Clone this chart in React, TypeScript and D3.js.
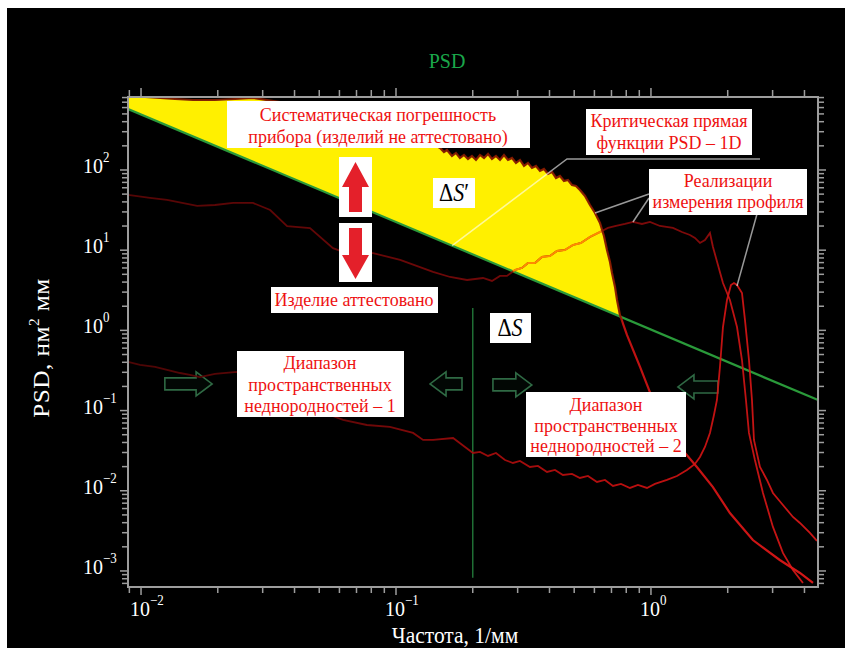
import React from "react";
import * as d3 from "d3";

// Critical PSD line (1D), two end points in frequency [1/mm] and PSD [nm²·mm]
const critFreq = [0.0089, 4.5];
const critPsd = [576, 0.136];

// Instrument systematic error PSD
const sysFreq = [
  0.00889, 0.01037, 0.0119, 0.01359, 0.016, 0.0195, 0.0234, 0.0275, 0.042, 0.066,
  0.1037, 0.1359, 0.1488, 0.1542, 0.1585, 0.1658, 0.1719, 0.1782, 0.1848, 0.1916,
  0.1986, 0.2059, 0.2135, 0.2214, 0.2296, 0.2379, 0.2467, 0.2558, 0.2652, 0.2749,
  0.2851, 0.2955, 0.3064, 0.3177, 0.3294, 0.3415, 0.354, 0.367, 0.3805, 0.3945,
  0.409, 0.4241, 0.4396, 0.4558, 0.4726, 0.4899, 0.508, 0.5266, 0.551, 0.5765,
  0.6032, 0.631, 0.6541, 0.6722, 0.6907, 0.7034, 0.7227, 0.736, 0.7556, 0.805,
  0.906, 1.018, 1.166, 1.3, 1.514, 1.75, 2.04, 2.51, 3.2, 3.84, 4.32,
];
const sysPsd = [
  840, 813, 790, 767, 746, 746, 767, 790, 646, 484,
  315, 223, 188.1, 167.7, 177.6, 149.5, 162.9, 141.1, 153.8, 137.1,
  149.5, 133.3, 153.8, 141.1, 158.3, 137.1, 149.5, 133.3, 153.8, 133.3,
  141.1, 122.3, 133.3, 112.2, 122.3, 105.9, 112.2, 97.2, 102.9, 89.2,
  94.4, 79.5, 84.2, 72.9, 75.0, 65.0, 63.2, 56.3, 47.4, 36.6,
  29.1, 21.8, 15.0, 10.06, 7.13, 5.2, 3.48, 2.39, 1.556, 0.877,
  0.35, 0.136, 0.0573, 0.0352, 0.0198, 0.0111, 0.00528, 0.00243, 0.00137, 0.000944, 0.000708,
];

// Profile measurement, realization 1
const real1Freq = [
  0.00889, 0.01084, 0.01265, 0.0166, 0.0195, 0.02297, 0.02748, 0.0321, 0.0374, 0.046,
  0.0566, 0.062, 0.0813, 0.1038, 0.1397, 0.163, 0.19, 0.2194, 0.2379, 0.2558,
  0.2724, 0.2929, 0.3119, 0.3294, 0.3508, 0.3737, 0.4017, 0.4279, 0.4599, 0.4944,
  0.5314, 0.5765, 0.631, 0.6782, 0.7291, 0.7907, 0.85, 0.922, 0.991, 1.0846,
  1.2196, 1.323, 1.4223, 1.4876, 1.5565, 1.6284, 1.7036, 1.7505, 1.8312, 1.9161,
  2.04, 2.175, 2.275, 2.358, 2.423, 2.557, 2.75, 3.009, 3.293, 3.605, 3.946,
];
const real1Psd = [
  48.8, 44.8, 42.3, 35.6, 36.6, 38.8, 38.8, 31.7, 20.0, 18.9,
  10.6, 9.5, 9.2, 7.55, 5.35, 4.63, 4.25, 4.5, 4.13, 4.77,
  4.77, 5.66, 6.0, 6.92, 6.92, 8.23, 8.47, 9.77, 10.06, 11.61,
  12.3, 14.61, 16.86, 18.92, 20.04, 21.22, 22.47, 21.22, 22.47, 20.04,
  18.92, 16.86, 15.47, 14.2, 12.3, 13.4, 16.39, 10.96, 6.54, 3.9,
  2.39, 1.1, 0.427, 0.1355, 0.0526, 0.0242, 0.00939, 0.00354, 0.00168, 0.00103, 0.000708,
];

// Profile measurement, realization 2
const real2Freq = [
  0.00889, 0.00991, 0.01135, 0.01265, 0.01422, 0.01556, 0.017, 0.0195, 0.0238, 0.0321,
  0.042, 0.0551, 0.062, 0.0769, 0.0946, 0.1167, 0.1277, 0.1397, 0.1675, 0.1865,
  0.2004, 0.2135, 0.2296, 0.2467, 0.2676, 0.2876, 0.3064, 0.3353, 0.3604, 0.3911,
  0.4202, 0.4517, 0.4899, 0.5266, 0.5661, 0.6141, 0.6601, 0.7096, 0.7628, 0.8273,
  0.8892, 0.9645, 1.0368, 1.1553, 1.2647, 1.3838, 1.4876, 1.5565, 1.6284, 1.7036,
  1.7663, 1.8146, 1.8646, 1.9161, 1.9869, 2.0597, 2.1161, 2.1747, 2.2751, 2.3372,
  2.4232, 2.4898, 2.5351, 2.676, 2.8505, 3.0094, 3.2927, 3.605, 3.8394, 4.2025, 4.4771,
];
const real2Psd = [
  0.404, 0.371, 0.35, 0.321, 0.294, 0.278, 0.262, 0.286, 0.303, 0.241,
  0.157, 0.0881, 0.0764, 0.0661, 0.0625, 0.0526, 0.043, 0.043, 0.0455, 0.0352,
  0.0296, 0.03047, 0.02716, 0.0296, 0.02421, 0.02221, 0.02352, 0.01981, 0.02038, 0.01716,
  0.01817, 0.01574, 0.0162, 0.01444, 0.01529, 0.01287, 0.01364, 0.01148, 0.01216, 0.01084,
  0.01181, 0.01084, 0.01216, 0.01364, 0.01529, 0.01817, 0.02159, 0.02638, 0.03516, 0.05256,
  0.08814, 0.1355, 0.3497, 1.1, 2.39, 3.68, 3.9, 3.68, 2.93, 1.348,
  0.427, 0.1355, 0.043, 0.01981, 0.01364, 0.00939, 0.006651, 0.004714, 0.003968, 0.002977, 0.002366,
];

// Border between the two ranges of spatial inhomogeneities
const boundaryFreq = 0.2;
const boundaryPsd = [1.9, 0.00082];

// Range arrows: tail frequency, head frequency, level
const rangeArrowFrom = [0.0124, 0.1815, 0.24, 1.83];
const rangeArrowTo = [0.019, 0.136, 0.341, 1.276];
const rangeArrowPsd = [0.215, 0.215, 0.209, 0.197];

const xDecades = [-2, -1, 0];
const yDecades = [2, 1, 0, -1, -2, -3];

const FONT = "'Liberation Serif', 'Times New Roman', serif";
const SY = 1.1;
const RED = "#ee1111";

type Pt = [number, number];

function Txt(props: any) {
  const { x, y, size, fill, anchor, children, style } = props;
  return (
    <text
      transform={`translate(${x},${y}) scale(1,${SY})`}
      fontSize={size}
      fill={fill}
      textAnchor={anchor || "start"}
      fontFamily={FONT}
      style={style}
    >
      {children}
    </text>
  );
}

export default function App() {
  const W = 845;
  const H = 648;
  const L = 128, R = 818, T = 97, B = 587;

  const x = d3.scaleLog().domain([0.00889, 4.52]).range([L, R]);
  const y = d3.scaleLog().domain([Math.pow(10, -3.2), Math.pow(10, 2.91)]).range([B, T]);

  const zip = (fs: number[], ps: number[]): Pt[] => fs.map((f, i) => [f, ps[i]] as Pt);
  const line = d3.line<Pt>().x((d) => x(d[0])).y((d) => y(d[1]));

  const lc0 = Math.log10(critFreq[0]);
  const lc1 = Math.log10(critFreq[1]);
  const lp0 = Math.log10(critPsd[0]);
  const lp1 = Math.log10(critPsd[1]);
  const crit = (f: number) => Math.pow(10, lp0 + ((Math.log10(f) - lc0) / (lc1 - lc0)) * (lp1 - lp0));

  const sys = zip(sysFreq, sysPsd);
  const real1 = zip(real1Freq, real1Psd);
  const real2 = zip(real2Freq, real2Psd);
  const critPts = zip(critFreq, critPsd);

  // Excess region ΔS': instrument curve above the critical line
  const upper: Pt[] = [];
  for (let i = 0; i < sys.length; i++) {
    const [f, p] = sys[i];
    if (p >= crit(f)) {
      upper.push(sys[i]);
      continue;
    }
    const [fa, pa] = sys[i - 1];
    const da = Math.log10(pa) - Math.log10(crit(fa));
    const db = Math.log10(p) - Math.log10(crit(f));
    const t = da / (da - db);
    const fc = Math.pow(10, Math.log10(fa) + t * (Math.log10(f) - Math.log10(fa)));
    upper.push([fc, crit(fc)]);
    break;
  }
  const regionPath = line([...upper, [upper[0][0], crit(upper[0][0])]]) + "Z";
  const crossX = x(upper[upper.length - 1][0]);

  // Ticks
  const [fx0, fx1] = x.domain();
  const xTicks: { v: number; major: boolean }[] = [];
  for (let d = -3; d <= 1; d++)
    for (let m = 1; m <= 9; m++) {
      const v = m * Math.pow(10, d);
      if (v >= fx0 && v <= fx1) xTicks.push({ v, major: m === 1 });
    }
  const [py0, py1] = y.domain();
  const yTicks: { v: number; major: boolean }[] = [];
  for (let d = -4; d <= 2; d++)
    for (let m = 1; m <= 9; m++) {
      const v = m * Math.pow(10, d);
      if (v >= py0 && v <= py1) yTicks.push({ v, major: m === 1 });
    }

  const blockArrow = (xt: number, xh: number, cy: number) => {
    const dir = Math.sign(xh - xt);
    const len = Math.abs(xh - xt);
    const hl = Math.min(16, len * 0.5);
    const xb = xh - dir * hl;
    return `M${xt},${cy - 6}L${xb},${cy - 6}L${xb},${cy - 12}L${xh},${cy}L${xb},${cy + 12}L${xb},${cy + 6}L${xt},${cy + 6}Z`;
  };

  const boxes = [
    { x: 227, y: 101, w: 303, h: 47, cx: 378, lines: ["Систематическая погрешность", "прибора (изделий не аттестовано)"], base: [121, 143] },
    { x: 271, y: 287, w: 167, h: 26, cx: 354, lines: ["Изделие аттестовано"], base: [306] },
    { x: 237, y: 351, w: 167, h: 66, cx: 320, lines: ["Диапазон", "пространственных", "неднородностей – 1"], base: [369, 391, 412] },
    { x: 526, y: 392, w: 160, h: 65, cx: 606, lines: ["Диапазон", "пространственных", "неднородностей – 2"], base: [411, 432, 452] },
    { x: 586, y: 109, w: 166, h: 46, cx: 669, lines: ["Критическая прямая", "функции PSD – 1D"], base: [127, 149] },
    { x: 649, y: 169, w: 158, h: 46, cx: 728, lines: ["Реализации", "измерения профиля"], base: [187, 208] },
  ];

  // Leader targets on the curves
  const critTarget: Pt = [0.166, crit(0.166)];
  const sysTarget: Pt = [sysFreq[50], sysPsd[50]];
  const real1Target: Pt = [real1Freq[36], real1Psd[36]];
  const peakTarget: Pt = [real2Freq[56], real2Psd[56]];

  const gx = (p: number) => (p - L) / (R - L);

  return (
    <div style={{ position: "absolute", left: 0, top: 0 }}>
      <svg width={W} height={H} viewBox={`0 0 ${W} ${H}`} style={{ display: "block" }}>
        <defs>
          <clipPath id="plot">
            <rect x={L} y={T} width={R - L} height={B - T} />
          </clipPath>
          <clipPath id="region">
            <path d={regionPath} />
          </clipPath>
          <linearGradient id="gReal1" gradientUnits="userSpaceOnUse" x1={L} x2={R} y1={0} y2={0}>
            <stop offset={0} stopColor="#5e0606" />
            <stop offset={gx(705)} stopColor="#8e0b0b" />
            <stop offset={gx(728)} stopColor="#d01414" />
            <stop offset={1} stopColor="#e01818" />
          </linearGradient>
          <linearGradient id="gReal2" gradientUnits="userSpaceOnUse" x1={L} x2={R} y1={0} y2={0}>
            <stop offset={0} stopColor="#560606" />
            <stop offset={gx(340)} stopColor="#6e0808" />
            <stop offset={gx(480)} stopColor="#a80c0c" />
            <stop offset={gx(620)} stopColor="#cc1010" />
            <stop offset={1} stopColor="#e01818" />
          </linearGradient>
          <linearGradient id="gSys" gradientUnits="userSpaceOnUse" x1={L} x2={R} y1={0} y2={0}>
            <stop offset={0} stopColor="#7a1800" />
            <stop offset={gx(crossX)} stopColor="#8a1a00" />
            <stop offset={gx(crossX + 2)} stopColor="#c81212" />
            <stop offset={1} stopColor="#e01818" />
          </linearGradient>
        </defs>

        <rect x={0} y={0} width={W} height={H} fill="#fff" />
        <rect x={7} y={8} width={W - 7} height={H - 8} fill="#000" />

        <Txt x={447} y={68} size={20} fill="#1aa64a" anchor="middle">PSD</Txt>

        <g clipPath="url(#plot)">
          <path d={regionPath} fill="#fff000" />
          <path d={line(critPts) || ""} fill="none" stroke="#2a9a3a" strokeWidth={2.2} />
          <line
            x1={x(boundaryFreq)} x2={x(boundaryFreq)}
            y1={y(boundaryPsd[0])} y2={y(boundaryPsd[1])}
            stroke="#1f6e34" strokeWidth={1.5}
          />
          {rangeArrowFrom.map((f, i) => (
            <path
              key={i}
              d={blockArrow(x(f), x(rangeArrowTo[i]), y(rangeArrowPsd[i]))}
              fill="rgba(20,60,35,0.12)"
              stroke="#2f6a44"
              strokeWidth={1.6}
            />
          ))}
          <path d={line(real2) || ""} fill="none" stroke="url(#gReal2)" strokeWidth={1.8} strokeOpacity={0.9} />
          <path d={line(real1) || ""} fill="none" stroke="url(#gReal1)" strokeWidth={1.8} strokeOpacity={0.9} />
          <path d={line(real1) || ""} fill="none" stroke="#ff8a00" strokeWidth={2} clipPath="url(#region)" />
          <path d={line(sys) || ""} fill="none" stroke="url(#gSys)" strokeWidth={2.2} strokeOpacity={0.95} />
        </g>

        {/* frame and ticks */}
        <rect x={L} y={T} width={R - L} height={B - T} fill="none" stroke="#9d9d9d" strokeWidth={2} />
        {xTicks.map((t, i) => (
          <g key={`xt${i}`} stroke="#9d9d9d" strokeWidth={1.5}>
            <line x1={x(t.v)} x2={x(t.v)} y1={B} y2={B + (t.major ? 8 : 6)} />
            <line x1={x(t.v)} x2={x(t.v)} y1={T} y2={T - (t.major ? 9 : 7)} />
          </g>
        ))}
        {yTicks.map((t, i) => (
          <g key={`yt${i}`} stroke="#9d9d9d" strokeWidth={1.5}>
            <line x1={L} x2={L - (t.major ? 8 : 6)} y1={y(t.v)} y2={y(t.v)} />
            <line x1={R} x2={R + (t.major ? 8 : 6)} y1={y(t.v)} y2={y(t.v)} />
          </g>
        ))}

        {xDecades.map((d) => (
          <Txt key={`xl${d}`} x={x(Math.pow(10, d)) - 11} y={616} size={20} fill="#fff">
            10
            <tspan dy={-10} fontSize={13}>{d < 0 ? `−${-d}` : `${d}`}</tspan>
          </Txt>
        ))}
        {yDecades.map((d) => (
          <Txt key={`yl${d}`} x={83} y={y(Math.pow(10, d)) + 3} size={20} fill="#fff">
            10
            <tspan dy={-10} fontSize={13}>{d < 0 ? `−${-d}` : `${d}`}</tspan>
          </Txt>
        ))}

        <Txt x={455} y={643} size={21.5} fill="#fff" anchor="middle">Частота, 1/мм</Txt>
        <text
          transform={`translate(49,348) scale(1,${SY}) rotate(-90)`}
          fontSize={23}
          fill="#fff"
          textAnchor="middle"
          fontFamily={FONT}
          letterSpacing={0.4}
        >
          PSD, нм<tspan dy={-10} fontSize={14}>2</tspan>
          <tspan dy={10}> мм</tspan>
        </text>

        {/* leader lines */}
        <g fill="none" stroke="#fff" strokeOpacity={0.6} strokeWidth={1.5}>
          <polyline points={`760,159 567,159 ${x(critTarget[0])},${y(critTarget[1])}`} />
          <line x1={649} y1={194} x2={x(sysTarget[0])} y2={y(sysTarget[1])} />
          <line x1={649} y1={198} x2={x(real1Target[0])} y2={y(real1Target[1])} />
          <line x1={757} y1={214} x2={x(peakTarget[0]) + 3} y2={y(peakTarget[1]) + 3} />
        </g>

        {/* text boxes */}
        {boxes.map((b, i) => (
          <g key={`b${i}`}>
            <rect x={b.x} y={b.y} width={b.w} height={b.h} fill="#fff" />
            {b.lines.map((s, j) => (
              <Txt key={j} x={b.cx} y={b.base[j]} size={18} fill={RED} anchor="middle">{s}</Txt>
            ))}
          </g>
        ))}

        {/* quality arrows */}
        <rect x={339} y={157} width={33} height={60} fill="#fff" />
        <path d="M355.5,162L369,187L362,187L362,212L349,212L349,187L342,187Z" fill="#e4202a" />
        <rect x={339} y={223} width={33} height={59} fill="#fff" />
        <path d="M349,228L362,228L362,255L369,255L355.5,279L342,255L349,255Z" fill="#e4202a" />

        {/* ΔS′ and ΔS labels */}
        <rect x={433} y={178} width={42} height={30} fill="#fff" />
        <Txt x={454} y={201} size={22} fill="#000" anchor="middle">
          Δ<tspan fontStyle="italic">S</tspan>′
        </Txt>
        <rect x={490} y={313} width={41} height={30} fill="#fff" />
        <Txt x={510} y={336} size={22} fill="#000" anchor="middle">
          Δ<tspan fontStyle="italic">S</tspan>
        </Txt>
      </svg>
    </div>
  );
}
